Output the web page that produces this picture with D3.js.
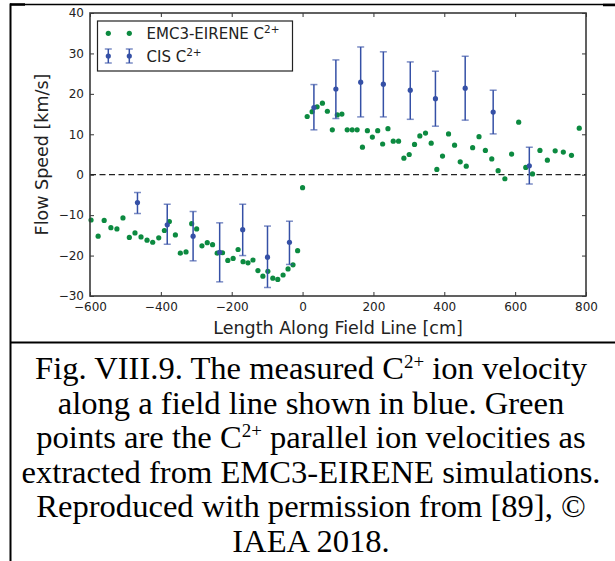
<!DOCTYPE html>
<html>
<head>
<meta charset="utf-8">
<script src="https://cdn.jsdelivr.net/npm/d3@7/dist/d3.min.js"></script>
<style>
  html, body { margin: 0; padding: 0; background: #fff; }
  svg { display: block; }
</style>
</head>
<body>
<svg id="chart" width="615" height="561"></svg>
<script>
// ---- Data ----
const emcX = [-597,-577,-560,-541,-524,-507,-489,-473,-456,-439,-423,-406,-390,-376,-359,-345,-329,-313,-299,-284,-269,-254,-241,-226,-211,-196,-182,-168,-154,-140,-126,-112,-98,-84,-70,-55,-41,-27,-14,0,13,27,41,56,70,84,98,111,126,140,154,169,183,197,212,226,241,256,271,286,301,316,331,347,363,379,395,412,429,445,462,480,498,516,534,552,571,590,610,630,649,670,691,713,736,759,781];
const emcY = [-11.2,-15.2,-11.3,-13.1,-13.4,-10.7,-15.5,-14.4,-15.4,-16.2,-16.7,-15.6,-13.8,-11.6,-14.9,-19.4,-19.1,-12.1,-13.4,-17.6,-16.8,-17.3,-19.4,-19.3,-21.2,-20.7,-18.5,-21.5,-21.8,-21.1,-23.7,-25.1,-23.9,-25.6,-25.9,-24.8,-23.3,-22.3,-18.8,-3.2,14.4,15.6,16.8,17.7,15.7,11.1,14.8,15.0,11.1,11.1,11.1,6.8,10.9,9.3,10.9,7.6,11.4,8.3,8.3,4.1,5.0,7.5,9.6,10.3,7.8,1.3,4.6,10.1,7.3,3.2,2.1,6.7,9.4,6.0,3.9,1.0,-1.0,5.1,13.0,1.8,0.2,6.0,3.6,5.9,5.6,4.8,11.5];

const cisX  = [-466,-382,-309,-234,-169,-99,-37,32,94,164,228,304,375,459,538,640];
const cisY  = [-6.9,-12.4,-15.2,-19.2,-13.6,-20.4,-16.7,16.6,21.2,22.9,22.4,20.9,18.8,21.4,15.5,2.2];
const cisLo = [-9.6,-17.2,-21.3,-26.5,-20.0,-27.9,-22.2,11.1,13.9,14.3,14.3,13.7,12.0,13.5,10.1,-2.3];
const cisHi = [-4.4,-7.3,-9.1,-11.9,-7.3,-12.7,-11.5,22.3,28.4,31.6,30.4,27.9,25.6,29.3,20.9,6.8];

const xTicks = [-600,-400,-200,0,200,400,600,800];
const yTicks = [-30,-20,-10,0,10,20,30,40];

const seriesNames = ["EMC3-EIRENE C", "CIS C"];
const xLabel = "Length Along Field Line [cm]";
const yLabel = "Flow Speed [km/s]";
const captionLines = [
  [["Fig. VIII.9. The measured C",""],["2+","sup"],[" ion velocity",""]],
  [["along a field line shown in blue. Green",""]],
  [["points are the C",""],["2+","sup"],[" parallel ion velocities as",""]],
  [["extracted from EMC3-EIRENE simulations.",""]],
  [["Reproduced with permission from [89], \u00A9",""]],
  [["IAEA 2018.",""]]
];

// ---- Layout ----
const svg = d3.select("#chart");
const L = 90, R = 586, T = 13, B = 296;
const green = "#0c8a40", blue = "#3550a6";

const x = d3.scaleLinear().domain([-600, 800]).range([L, R]);
const y = d3.scaleLinear().domain([-30, 40]).range([B, T]);

svg.append("rect").attr("width", 615).attr("height", 561).attr("fill", "#fff");

// Page / table borders
const borders = svg.append("g").attr("stroke", "#000");
borders.append("line").attr("x1", 10).attr("x2", 615).attr("y1", 4.5).attr("y2", 4.5).attr("stroke-width", 1.5);
borders.append("line").attr("x1", 10).attr("x2", 25).attr("y1", 4.5).attr("y2", 4.5).attr("stroke-width", 2.5);
borders.append("line").attr("x1", 603).attr("x2", 615).attr("y1", 5).attr("y2", 5).attr("stroke-width", 2.5);
borders.append("line").attr("x1", 10.5).attr("x2", 10.5).attr("y1", 3.5).attr("y2", 561).attr("stroke-width", 2);
borders.append("line").attr("x1", 10).attr("x2", 615).attr("y1", 342.5).attr("y2", 342.5).attr("stroke-width", 2);

// Axes
const fontAx = "'DejaVu Sans', sans-serif";
const axB = d3.axisBottom(x).tickValues(xTicks).tickSize(-4).tickPadding(6).tickFormat(d3.format("d"));
const axT = d3.axisTop(x).tickValues(xTicks).tickSize(-4).tickFormat("");
const axLf = d3.axisLeft(y).tickValues(yTicks).tickSize(-4).tickPadding(6).tickFormat(d3.format("d"));
const axRt = d3.axisRight(y).tickValues(yTicks).tickSize(-4).tickFormat("");

function styleAxis(g) {
  g.select(".domain").remove();
  g.selectAll(".tick line").attr("stroke", "#333").attr("stroke-width", 1);
  g.selectAll(".tick text").attr("fill", "#222").style("font-family", fontAx).style("font-size", "12px");
}
svg.append("g").attr("transform", `translate(0,${B})`).call(axB).call(styleAxis);
svg.append("g").attr("transform", `translate(0,${T})`).call(axT).call(styleAxis);
svg.append("g").attr("transform", `translate(${L},0)`).call(axLf).call(styleAxis);
svg.append("g").attr("transform", `translate(${R},0)`).call(axRt).call(styleAxis);

// Zero dashed line
svg.append("line")
  .attr("x1", x(-600)).attr("x2", x(800)).attr("y1", y(0)).attr("y2", y(0))
  .attr("stroke", "#222").attr("stroke-width", 1.3).attr("stroke-dasharray", "6,3.5");

// EMC3 points
const emc = emcX.map((v, i) => ({x: v, y: emcY[i]}));
svg.append("g").selectAll("circle").data(emc).join("circle")
  .attr("cx", d => x(d.x)).attr("cy", d => y(d.y)).attr("r", 2.6).attr("fill", green);

// CIS error bars
const cis = cisX.map((v, i) => ({x: v, y: cisY[i], lo: cisLo[i], hi: cisHi[i]}));
const eb = svg.append("g");
const cg = eb.selectAll("g").data(cis).join("g");
cg.append("line").attr("x1", d => x(d.x)).attr("x2", d => x(d.x))
  .attr("y1", d => y(d.lo)).attr("y2", d => y(d.hi)).attr("stroke", blue).attr("stroke-width", 1.5);
cg.append("line").attr("x1", d => x(d.x) - 3.5).attr("x2", d => x(d.x) + 3.5)
  .attr("y1", d => y(d.lo)).attr("y2", d => y(d.lo)).attr("stroke", blue).attr("stroke-opacity", 0.65).attr("stroke-width", 1.5);
cg.append("line").attr("x1", d => x(d.x) - 3.5).attr("x2", d => x(d.x) + 3.5)
  .attr("y1", d => y(d.hi)).attr("y2", d => y(d.hi)).attr("stroke", blue).attr("stroke-opacity", 0.65).attr("stroke-width", 1.5);
cg.append("circle").attr("cx", d => x(d.x)).attr("cy", d => y(d.y)).attr("r", 2.6).attr("fill", blue);

// Frame
svg.append("rect").attr("x", L).attr("y", T).attr("width", R - L).attr("height", B - T)
  .attr("fill", "none").attr("stroke", "#3a3a3a").attr("stroke-width", 1.6);

// Axis labels
svg.append("text").attr("x", (L + R) / 2).attr("y", 334).attr("text-anchor", "middle")
  .style("font-family", fontAx).style("font-size", "17.5px").attr("fill", "#222").text(xLabel);
svg.append("text").attr("transform", `translate(48,${(T + B) / 2}) rotate(-90)`).attr("text-anchor", "middle")
  .style("font-family", fontAx).style("font-size", "17.5px").attr("fill", "#222").text(yLabel);

// Legend
const lg = svg.append("g");
lg.append("rect").attr("x", 97.5).attr("y", 21).attr("width", 195).attr("height", 50)
  .attr("fill", "#fff").attr("stroke", "#222").attr("stroke-width", 1.2);
[108.3, 129.3].forEach(px => {
  lg.append("circle").attr("cx", px).attr("cy", 33.3).attr("r", 2.6).attr("fill", green);
  lg.append("line").attr("x1", px).attr("x2", px).attr("y1", 49).attr("y2", 63).attr("stroke", blue).attr("stroke-width", 1.5);
  lg.append("line").attr("x1", px - 3.5).attr("x2", px + 3.5).attr("y1", 49).attr("y2", 49).attr("stroke", blue).attr("stroke-opacity", 0.65).attr("stroke-width", 1.5);
  lg.append("line").attr("x1", px - 3.5).attr("x2", px + 3.5).attr("y1", 63).attr("y2", 63).attr("stroke", blue).attr("stroke-opacity", 0.65).attr("stroke-width", 1.5);
  lg.append("circle").attr("cx", px).attr("cy", 56).attr("r", 2.6).attr("fill", blue);
});
[[seriesNames[0], 38.5], [seriesNames[1], 61.5]].forEach(([t, yy]) => {
  const tx = lg.append("text").attr("x", 146.5).attr("y", yy)
    .style("font-family", fontAx).style("font-size", "15px").attr("fill", "#222");
  tx.append("tspan").text(t);
  tx.append("tspan").attr("dy", -6).style("font-size", "10.5px").text("2+");
});

// Caption
const cap = svg.append("g");
captionLines.forEach((parts, i) => {
  const t = cap.append("text").attr("x", 311).attr("y", 379 + i * 34.6).attr("text-anchor", "middle")
    .style("font-family", "'Liberation Serif', 'Times New Roman', serif").style("font-size", "32.6px").attr("fill", "#000");
  let sup = false;
  parts.forEach(([s, kind]) => {
    const ts = t.append("tspan").text(s);
    if (kind === "sup") { ts.attr("dy", -11).style("font-size", "19px"); sup = true; }
    else if (sup) { ts.attr("dy", 11); sup = false; }
  });
});
</script>
</body>
</html>
